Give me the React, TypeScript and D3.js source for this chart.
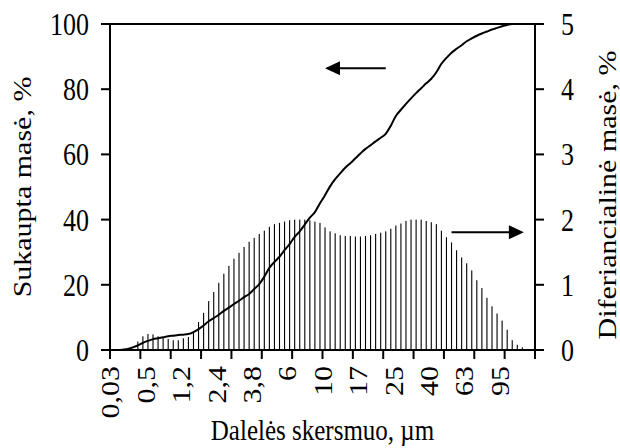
import React from "react";
import * as d3 from "d3";

// Differential mass, % (right axis), one per size class (84 classes)
const diffValues: number[] = [
  0, 0, 0, 0, 0, 0.13, 0.21, 0.245, 0.24, 0.21, 0.19, 0.17, 0.15, 0.15, 0.18, 0.2,
  0.27, 0.43, 0.57, 0.75, 0.89, 1.03, 1.17, 1.29, 1.4, 1.49, 1.58, 1.66, 1.72, 1.78,
  1.83, 1.89, 1.93, 1.95, 1.97, 1.99, 2.0, 2.0, 2.0, 1.99, 1.97, 1.95, 1.88, 1.82,
  1.79, 1.76, 1.75, 1.75, 1.74, 1.74, 1.75, 1.76, 1.78, 1.8, 1.82, 1.86, 1.91, 1.94,
  1.98, 2.0, 2.0, 2.0, 1.98, 1.96, 1.93, 1.83, 1.73, 1.65, 1.53, 1.42, 1.33, 1.22,
  1.07, 0.95, 0.8, 0.67, 0.56, 0.45, 0.31, 0.15, 0.08, 0.04, 0, 0,
];

// Cumulative mass, % (left axis)
const cumValues: number[] = [
  0, 0, 0.1, 0.3, 0.8, 1.4, 2.2, 2.8, 3.3, 3.6, 3.9, 4.2, 4.4, 4.6, 4.7, 4.9,
  5.5, 6.4, 7.5, 8.8, 9.8, 10.8, 12.0, 13.0, 14.1, 15.1, 16.2, 17.2, 18.7, 20.2,
  22.5, 25.2, 27.0, 28.6, 30.6, 32.5, 34.7, 36.4, 38.5, 40.6, 42.3, 45.0, 47.5, 50.2,
  52.4, 54.2, 55.9, 57.3, 58.8, 60.3, 61.7, 62.8, 64.0, 65.1, 66.3, 68.8, 71.8, 73.7,
  75.5, 77.2, 78.8, 80.3, 81.8, 83.2, 85.2, 87.8, 89.6, 91.2, 92.4, 93.5, 94.7, 95.6,
  96.4, 97.1, 97.7, 98.3, 98.8, 99.3, 99.7, 100, 100, 100, 100, 100,
];

const xTickLabels: string[] = ["0,03", "0,5", "1,2", "2,4", "3,8", "6", "10", "17", "25", "40", "63", "95"];
const leftTicks: number[] = [0, 20, 40, 60, 80, 100];
const rightTicks: number[] = [0, 1, 2, 3, 4, 5];

const W = 620;
const H = 448;
const M = { left: 110, right: 535, top: 24, bottom: 350 };
const FONT = "'Liberation Serif', 'Times New Roman', serif";
const FS = 25;
const TFS = 26;
const ST = 1.2; // vertical stretch of glyphs seen in the reference

export default function App() {
  const n = diffValues.length;
  const idx = d3.range(n);
  const x = d3.scaleBand<number>().domain(idx).range([M.left, M.right]).paddingInner(0).paddingOuter(0);
  const bw = x.bandwidth();
  const cx = (i: number) => M.left + (i + 0.5) * bw;
  const yL = d3.scaleLinear().domain([0, 100]).range([M.bottom, M.top]);
  const yR = d3.scaleLinear().domain([0, 5]).range([M.bottom, M.top]);

  const line = d3
    .line<number>()
    .x((_, i) => cx(i))
    .y((d) => yL(d))
    .curve(d3.curveMonotoneX);
  const linePath = "M" + M.left + "," + yL(0) + line(cumValues)!.replace(/^M/, "L");

  const tickEvery = 6;
  const labelEvery = 7;
  const xTicks = d3.range(0, n + 1, tickEvery).map((i) => M.left + i * bw);

  // arrows (in data coordinates)
  const lA = { y: yL(86.4), x1: cx(54), x2: cx(42) };
  const rA = { y: yR(1.805), x1: cx(67), x2: cx(81.3) };
  const head = 15;
  const hh = 7;

  return (
    <svg width={W} height={H} style={{ position: "absolute", left: 0, top: 0, background: "#fff" }} fontFamily={FONT}>
      <rect width={W} height={H} fill="#fff" />
      {/* bars */}
      {diffValues.map((v, i) =>
        v > 0 ? (
          <rect key={i} x={(x(i) as number) + bw / 2 - 0.55} width={1.1} y={yR(v)} height={yR(0) - yR(v)} fill="#000" />
        ) : null
      )}
      {/* cumulative curve */}
      <path d={linePath} fill="none" stroke="#000" strokeWidth={2} />
      {/* top border */}
      <line x1={M.left - 9} x2={M.right} y1={M.top} y2={M.top} stroke="#000" strokeWidth={2} />
      {/* axes */}
      <line x1={M.left} x2={M.left} y1={M.top} y2={M.bottom} stroke="#000" strokeWidth={2} />
      <line x1={M.right} x2={M.right} y1={M.top} y2={M.bottom + 8} stroke="#000" strokeWidth={2} />
      <line x1={M.left - 9} x2={M.right + 9} y1={M.bottom} y2={M.bottom} stroke="#000" strokeWidth={2} />
      {leftTicks.map((t) => (
        <g key={"l" + t}>
          <line x1={M.left - 9} x2={M.left} y1={yL(t)} y2={yL(t)} stroke="#000" strokeWidth={2} />
          <text transform={`translate(${M.left - 21},${yL(t)}) scale(1,${ST})`} dy="0.35em" textAnchor="end" fontSize={TFS}>
            {t}
          </text>
        </g>
      ))}
      {rightTicks.map((t) => (
        <g key={"r" + t}>
          <line x1={M.right} x2={M.right + 9} y1={yR(t)} y2={yR(t)} stroke="#000" strokeWidth={2} />
          <text transform={`translate(${M.right + 26},${yR(t)}) scale(1,${ST})`} dy="0.35em" textAnchor="start" fontSize={TFS}>
            {t}
          </text>
        </g>
      ))}
      {xTicks.map((tx, i) => (
        <line key={"xt" + i} x1={tx} x2={tx} y1={M.bottom} y2={M.bottom + 9} stroke="#000" strokeWidth={2} />
      ))}
      {xTickLabels.map((lab, k) => {
        const px = cx(k * labelEvery) - 2;
        const py = M.bottom + 16;
        return (
          <text key={"xl" + k} transform={`translate(${px},${py}) rotate(-90) scale(${ST},1)`} textAnchor="end" dy="0.35em" fontSize={FS}>
            {lab}
          </text>
        );
      })}
      {/* titles */}
      <text transform={`translate(22,${(M.top + M.bottom) / 2}) rotate(-90) scale(${ST},1)`} textAnchor="middle" dy="0.35em" fontSize={FS}>
        Sukaupta masė, %
      </text>
      <text transform={`translate(607,${(M.top + M.bottom) / 2 + 8}) rotate(-90) scale(${ST},1)`} textAnchor="middle" dy="0.35em" fontSize={FS}>
        Diferiancialinė masė, %
      </text>
      <text transform={`translate(${(M.left + M.right) / 2},440) scale(1,${ST})`} textAnchor="middle" fontSize={FS}>
        Dalelės skersmuo, µm
      </text>
      {/* arrows */}
      <line x1={lA.x1} x2={lA.x2 + head - 1} y1={lA.y} y2={lA.y} stroke="#000" strokeWidth={2} />
      <polygon points={`${lA.x2},${lA.y} ${lA.x2 + head},${lA.y - hh} ${lA.x2 + head},${lA.y + hh}`} fill="#000" />
      <line x1={rA.x1} x2={rA.x2 - head + 1} y1={rA.y} y2={rA.y} stroke="#000" strokeWidth={2} />
      <polygon points={`${rA.x2},${rA.y} ${rA.x2 - head},${rA.y - hh} ${rA.x2 - head},${rA.y + hh}`} fill="#000" />
    </svg>
  );
}
